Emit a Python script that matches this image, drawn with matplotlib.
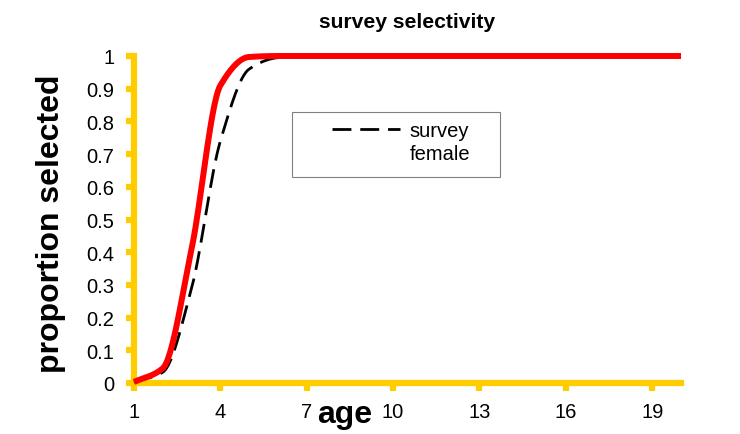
import numpy as np
import matplotlib
matplotlib.use('Agg')
import matplotlib.pyplot as plt
from matplotlib.patches import Rectangle
from matplotlib.lines import Line2D
from matplotlib.ticker import FuncFormatter

plt.rcParams['font.family'] = ['Liberation Sans', 'DejaVu Sans']

# ages 1..20 and the two selectivity curves
ages = [1, 2, 3, 4, 5, 6, 7, 8, 9, 10, 11, 12, 13, 14, 15, 16, 17, 18, 19, 20]
red_sel = [0.003, 0.045, 0.41, 0.91, 0.997, 1.0, 1.0, 1.0, 1.0, 1.0,
           1.0, 1.0, 1.0, 1.0, 1.0, 1.0, 1.0, 1.0, 1.0, 1.0]
survey_female = [0.003, 0.033, 0.29, 0.74, 0.96, 0.995, 1.0, 1.0, 1.0, 1.0,
                 1.0, 1.0, 1.0, 1.0, 1.0, 1.0, 1.0, 1.0, 1.0, 1.0]
yticks = [0, 0.1, 0.2, 0.3, 0.4, 0.5, 0.6, 0.7, 0.8, 0.9, 1]
xticks = ages[::3]

YELLOW = '#FFCC00'


def smooth(x, y, n=30):
    # monotone cubic through the points (no overshoot like the original)
    x = np.asarray(x, float)
    y = np.asarray(y, float)
    h = np.diff(x)
    d = np.diff(y) / h
    m = np.zeros_like(y)
    m[0], m[-1] = d[0], d[-1]
    for i in range(1, len(y) - 1):
        if d[i-1] * d[i] > 0:
            m[i] = 2 / (1/d[i-1] + 1/d[i])
    t = np.linspace(0, 1, n)
    h00 = 2*t**3 - 3*t**2 + 1
    h10 = t**3 - 2*t**2 + t
    h01 = -2*t**3 + 3*t**2
    h11 = t**3 - t**2
    xs, ys = [], []
    for i in range(len(x) - 1):
        xs.append(x[i] + t*h[i])
        ys.append(h00*y[i] + h10*h[i]*m[i] + h01*y[i+1] + h11*h[i]*m[i+1])
    return np.concatenate(xs), np.concatenate(ys)


fig = plt.figure(figsize=(7.4, 4.35), dpi=100)
ax = fig.add_axes([134/740, 1-384/435, 547/740, 327/435])

sx, sy = smooth(ages, survey_female)
black, = ax.plot(sx, sy, color='black', lw=2, ls=(0, (6.8, 3.2)), zorder=3, clip_on=False)
rx, ry = smooth(ages, red_sel)
ax.plot(rx, ry, color='#FF0000', lw=4.3, zorder=4, clip_on=False, solid_capstyle='butt')

ax.set_xlim(1, 20)
ax.set_ylim(0, 1)
ax.set_xticks(xticks)
ax.set_yticks(yticks)
ax.yaxis.set_major_formatter(FuncFormatter(lambda v, p: '%g' % v))

for s in ['top', 'right']:
    ax.spines[s].set_visible(False)
for s in ['left', 'bottom']:
    ax.spines[s].set_color(YELLOW)
    ax.spines[s].set_linewidth(4.5)
ax.tick_params(direction='out', length=6, width=4.5, color=YELLOW,
               labelsize=14.5, pad=8)

ax.set_title('survey selectivity', fontsize=15.2, fontweight='bold', y=1.107, pad=0, va='center')
ax.set_ylabel('proportion selected', fontsize=23, fontweight='bold', va='center')
ax.yaxis.set_label_coords(-0.151, 0.49)
ax.set_xlabel('age', fontsize=23, fontweight='bold', va='center')
ax.xaxis.set_label_coords(0.386, -0.095)

# legend box
ax.add_patch(Rectangle((0.289, 0.63), 0.38, 0.199, transform=ax.transAxes,
                       fill=False, edgecolor='#808080', lw=0.8))
blank = Line2D([], [], color='none')
ax.legend([black, blank], ['survey', 'female'], loc='upper left', bbox_to_anchor=(0.362, 0.80),
          frameon=False, fontsize=14.5, handlelength=3.4, handletextpad=0.45,
          labelspacing=0.2, borderpad=0, borderaxespad=0)

fig.savefig('out.png', dpi=100)
